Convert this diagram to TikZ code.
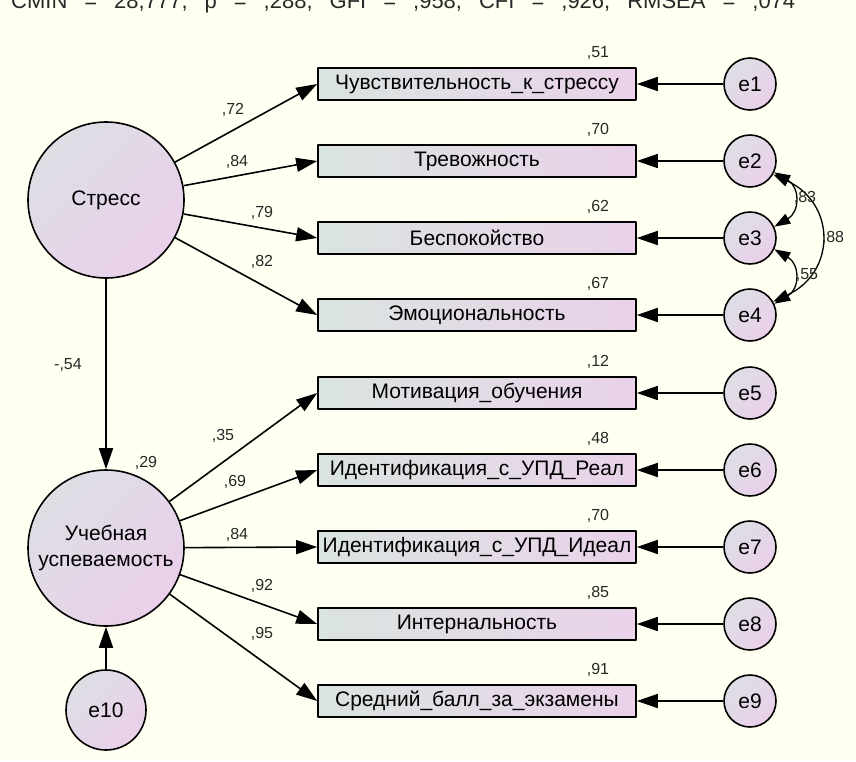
\documentclass[tikz,border=0pt]{standalone}
\usepackage{fontspec}
\setmainfont{Liberation Sans}
\usetikzlibrary{arrows.meta}
\definecolor{bgcol}{RGB}{255,255,242}
\definecolor{boxleft}{RGB}{218,228,224}
\definecolor{boxright}{RGB}{234,210,234}
\definecolor{circtop}{RGB}{222,222,228}
\definecolor{circbot}{RGB}{234,208,234}
\definecolor{numcol}{RGB}{40,40,40}
\tikzset{
  obsbox/.style={draw, line width=1.6pt, minimum width=318pt, minimum height=32pt,
    inner sep=0pt, left color=boxleft, right color=boxright, font=\fontsize{21}{24}\selectfont},
  latent/.style={circle, draw, line width=1.6pt, left color=circtop, right color=circbot,
    shading angle=45, minimum size=156pt, inner sep=0pt, align=center,
    font=\fontsize{21}{26}\selectfont},
  errnode/.style={latent, minimum size=52pt},
  arrline/.style={line width=1.6pt, -{Triangle[length=21pt,width=14pt]}},
  covline/.style={line width=1.3pt, {Triangle[length=16pt,width=11pt]}-{Triangle[length=16pt,width=11pt]}},
  coeff/.style={text=numcol, inner sep=0pt, font=\fontsize{16}{18}\selectfont}
}
\begin{document}
\begin{tikzpicture}[x=1pt,y=1pt,line join=round]
	\useasboundingbox (0,0) rectangle (856,-761);
	\fill[bgcol] (0,0) rectangle (856,-761);
	\begin{scope}
		\clip (0,0) rectangle (856,-761);
		\node[anchor=base west, inner sep=0pt, text=numcol, font=\fontsize{22}{24}\selectfont] (fitline) at (11,-8)
			{\spaceskip=17pt\relax CMIN = 28,777, p = ,288, GFI = ,958, CFI = ,926, RMSEA = ,074};
	\end{scope}
	% latent variables
	\node[latent] (stress) at (106,-200) {Стресс};
	\node[latent] (perf) at (106,-548) {Учебная\\успеваемость};
	\node[errnode, minimum size=80pt] (e10) at (106,-710) {e10};
	% indicators with their errors
	\foreach \i/\yy/\txt/\rsq in {1/84/{Чувствительность\_к\_стрессу}/{,51},2/161/Тревожность/{,70},
		3/238/Беспокойство/{,62},4/315/Эмоциональность/{,67},5/393/{Мотивация\_обучения}/{,12},
		6/470/{Идентификация\_с\_УПД\_Реал}/{,48},7/547/{Идентификация\_с\_УПД\_Идеал}/{,70},
		8/624/Интернальность/{,85},9/701/{Средний\_балл\_за\_экзамены}/{,91}}
	{
		\node[obsbox] (v\i) at (477,-\yy) {\txt};
		\node[errnode] (e\i) at (750,-\yy) {e\i};
		\node[coeff] (rsq\i) at (598,-\yy+31) {\rsq};
		\draw[arrline] (e\i) -- (v\i);
	}
	% loadings
	\foreach \i/\val/\lx/\ly in {1/{,72}/233/110,2/{,84}/237/162,3/{,79}/262/213,4/{,82}/262/262}
	{
		\draw[arrline] (stress) -- (v\i.west);
		\node[coeff] (ls\i) at (\lx,-\ly) {\val};
	}
	\foreach \i/\val/\lx/\ly in {5/{,35}/223/436,6/{,69}/235/482,7/{,84}/237/535,8/{,92}/262/586,9/{,95}/262/634}
	{
		\draw[arrline] (perf) -- (v\i.west);
		\node[coeff] (lp\i) at (\lx,-\ly) {\val};
	}
	% structural part
	\draw[arrline] (stress) -- (perf);
	\node[coeff] (beta) at (68,-365) {-,54};
	\node[coeff] (rsqperf) at (146,-463) {,29};
	\draw[arrline] (e10) -- (perf);
	% correlated errors
	\draw[covline] (e2.-25) to[out=-30,in=30,looseness=1.4] (e3.25);
	\draw[covline] (e3.-25) to[out=-30,in=30,looseness=1.4] (e4.25);
	\draw[covline] (e2.-30) to[out=-25,in=25,looseness=1.4] (e4.30);
	\node[coeff] (c23) at (805,-198) {,83};
	\node[coeff] (c34) at (807,-275) {,55};
	\node[coeff] (c24) at (833,-238) {,88};
\end{tikzpicture}
\end{document}
